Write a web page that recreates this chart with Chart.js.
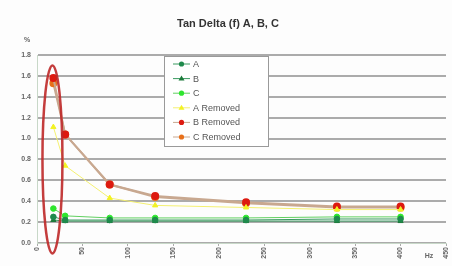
<!DOCTYPE html>
<html>
<head>
<meta charset="utf-8">
<script src="https://cdn.jsdelivr.net/npm/chart.js@4"></script>
<style>
  html, body { margin: 0; padding: 0; background: #fdfdfd; }
  #wrap { width: 452px; height: 266px; position: relative; }
</style>
</head>
<body>
<div id="wrap"><canvas id="c" width="452" height="266"></canvas></div>
<script>
const titleText = "Tan Delta (f) A, B, C";
const yUnit = "%";
const xUnit = "Hz";
const freqs = [18, 31, 80, 130, 230, 330, 400];
const seriesA = [0.25, 0.22, 0.22, 0.22, 0.22, 0.23, 0.23];
const seriesB = [0.22, 0.21, 0.21, 0.21, 0.21, 0.21, 0.21];
const seriesC = [0.33, 0.26, 0.24, 0.24, 0.24, 0.25, 0.25];
const aRemoved = [1.11, 0.74, 0.43, 0.36, 0.34, 0.32, 0.32];
const bRemoved = [1.58, 1.04, 0.56, 0.45, 0.39, 0.35, 0.35];
const cRemoved = [1.53, 1.04, 0.56, 0.44, 0.38, 0.34, 0.34];
const seriesLabels = ["A", "B", "C", "A Removed", "B Removed", "C Removed"];
const highlight = { x: 17, y: 0.8, rx: 11, ry: 0.9 };

const pts = arr => arr.map((v, i) => ({ x: freqs[i], y: v }));

const styles = [
  { color: '#1f8a4c', line: '#3a9a60', pt: 'circle', r: 2.8 },
  { color: '#1c7a3a', line: '#3a9a60', pt: 'triangle', r: 3 },
  { color: '#2ee62e', line: '#60d060', pt: 'circle', r: 2.8 },
  { color: '#f2f224', line: '#f4f070', pt: 'triangle', r: 3 },
  { color: '#dd1a10', line: '#c8a890', pt: 'circle', r: 3 },
  { color: '#e8701a', line: '#c8a890', pt: 'circle', r: 3 },
];
const allData = [seriesA, seriesB, seriesC, aRemoved, bRemoved, cRemoved];
const order = [3, 4, 5, 0, 1, 2];

const datasets = allData.map((d, i) => ({
  label: seriesLabels[i],
  data: pts(d),
  borderColor: styles[i].line,
  backgroundColor: styles[i].color,
  pointBackgroundColor: styles[i].color,
  pointBorderColor: styles[i].color,
  pointStyle: styles[i].pt,
  pointRadius: styles[i].r,
  borderWidth: i >= 4 ? 2 : 1,
  tension: 0,
  order: order[i]
}));

const decor = {
  id: 'decor',
  afterDraw(chart) {
    const ctx = chart.ctx;
    const xs = chart.scales.x, ys = chart.scales.y;
    ctx.save();
    ctx.fillStyle = '#333';
    ctx.font = 'bold 11px "Liberation Sans", Arial, sans-serif';
    ctx.textAlign = 'center';
    ctx.textBaseline = 'middle';
    ctx.fillText(titleText, 228, 24);
    ctx.font = 'bold 7px "Liberation Sans", Arial, sans-serif';
    ctx.fillStyle = '#666';
    ctx.fillText(yUnit, 27, 40);
    ctx.fillText(xUnit, 429, 256);
    const lx = 164, ly = 56, lw = 104, lh = 90;
    ctx.fillStyle = '#ffffff';
    ctx.fillRect(lx, ly, lw, lh);
    ctx.strokeStyle = '#9a9a9a';
    ctx.lineWidth = 1;
    ctx.strokeRect(lx + 0.5, ly + 0.5, lw, lh);
    chart.data.datasets.forEach((ds, i) => {
      const y = 64 + i * 14.6;
      ctx.strokeStyle = ds.borderColor;
      ctx.lineWidth = 1;
      ctx.beginPath();
      ctx.moveTo(173, y); ctx.lineTo(190, y);
      ctx.stroke();
      ctx.fillStyle = ds.pointBackgroundColor;
      if (ds.pointStyle === 'triangle') {
        ctx.beginPath();
        ctx.moveTo(181.5, y - 3); ctx.lineTo(184.5, y + 2); ctx.lineTo(178.5, y + 2);
        ctx.closePath(); ctx.fill();
      } else {
        ctx.beginPath(); ctx.arc(181.5, y, 2.6, 0, Math.PI * 2); ctx.fill();
      }
      ctx.fillStyle = '#555';
      ctx.font = '9px "Liberation Sans", Arial, sans-serif';
      ctx.textAlign = 'left';
      ctx.fillText(ds.label, 193, y + 0.5);
    });
    const cx = xs.getPixelForValue(highlight.x);
    const cy = ys.getPixelForValue(highlight.y);
    const rx = xs.getPixelForValue(highlight.x + highlight.rx) - cx;
    const ry = cy - ys.getPixelForValue(highlight.y + highlight.ry);
    ctx.strokeStyle = 'rgba(190,40,40,0.9)';
    ctx.lineWidth = 2.5;
    ctx.beginPath();
    ctx.ellipse(cx, cy, rx, ry, 0, 0, Math.PI * 2);
    ctx.stroke();
    ctx.restore();
  }
};

new Chart(document.getElementById('c'), {
  type: 'line',
  data: { datasets },
  options: {
    responsive: false,
    animation: false,
    layout: { padding: { top: 55, left: 0, right: 0, bottom: 0 } },
    plugins: { legend: { display: false }, title: { display: false }, tooltip: { enabled: false } },
    scales: {
      x: {
        type: 'linear', min: 0, max: 450,
        ticks: {
          stepSize: 50, maxRotation: 90, minRotation: 90,
          color: '#666', font: { size: 7, weight: 'bold', family: '"Liberation Sans", Arial' },
          padding: 1
        },
        grid: { display: true, drawOnChartArea: false, drawTicks: true, tickLength: 3, color: '#aaa' },
        border: { color: '#c8d8c8', width: 1 },
        afterFit: s => { s.height = 23; s.paddingRight = 0; s.paddingLeft = 0; }
      },
      y: {
        min: 0, max: 1.8,
        ticks: {
          stepSize: 0.2, color: '#666', padding: 6,
          font: { size: 7, weight: 'bold', family: '"Liberation Sans", Arial' },
          callback: v => v.toFixed(1)
        },
        grid: { color: '#ababab', lineWidth: 2, drawTicks: false },
        border: { color: '#c8d8c8', width: 1 },
        afterFit: s => { s.width = 37; }
      }
    }
  },
  plugins: [decor]
});
</script>
</body>
</html>
